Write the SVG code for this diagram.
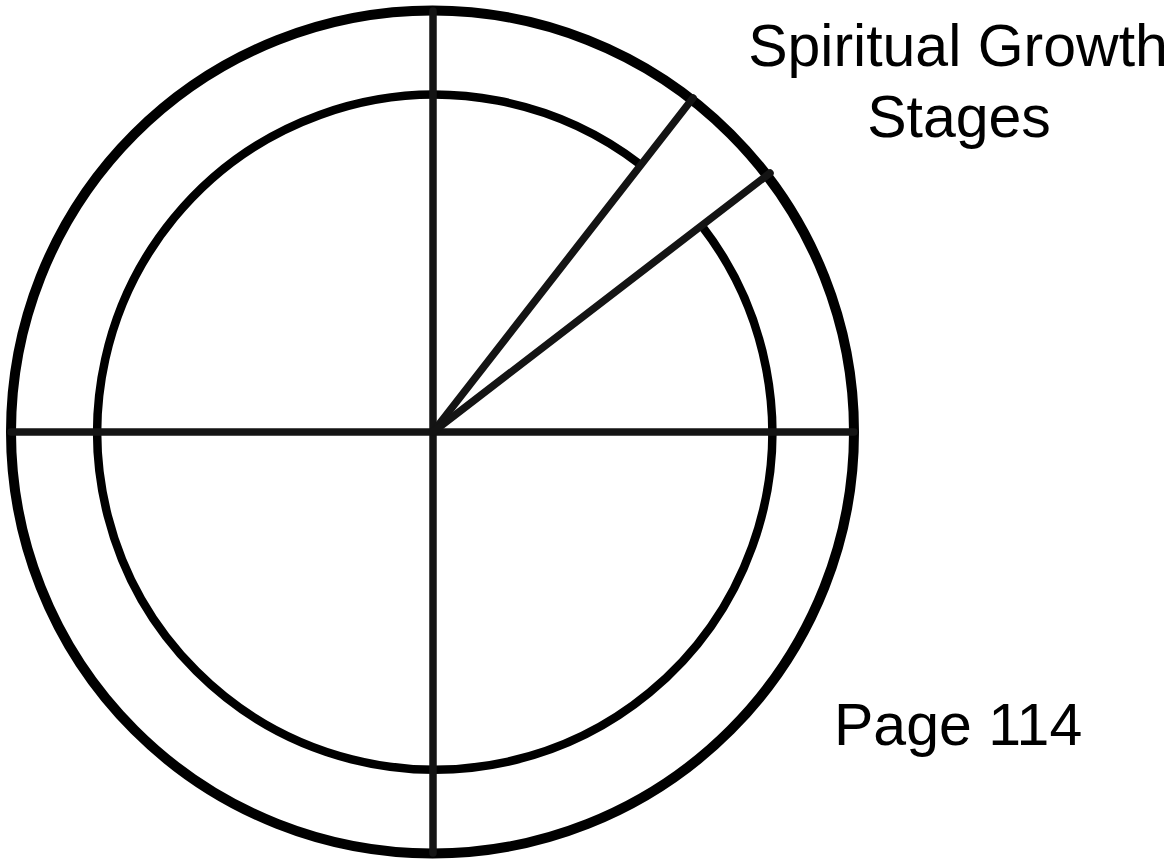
<svg xmlns="http://www.w3.org/2000/svg" width="1175" height="863" viewBox="0 0 1175 863">
<style>
.ring{fill:none;stroke:#000}
.ln{stroke:#141414;stroke-width:7.5;stroke-linecap:round;fill:none}
.t{font-family:"Liberation Sans",Arial,sans-serif;font-size:59px;fill:#000}
</style>
<rect width="1175" height="863" fill="#fff"/>
<g id="outer-circle"><circle class="ring" cx="432.5" cy="432" r="421.5" stroke-width="10"/></g>
<g id="inner-circle"><path class="ring" stroke-width="8.5" d="M640.9,165 A337.5,337.5 0 1 0 701.6,225.6"/></g>
<g id="connectors">
<line class="ln" x1="11" y1="432" x2="854" y2="432"/>
<line class="ln" x1="433" y1="11" x2="433" y2="853"/>
<line class="ln" x1="433" y1="432" x2="693" y2="98"/>
<line class="ln" x1="433" y1="432" x2="770" y2="173"/>
</g>
<g id="title"><text class="t" x="958" y="66" text-anchor="middle">Spiritual Growth</text><text class="t" x="959" y="137" text-anchor="middle">Stages</text></g>
<g id="page"><text class="t" x="834" y="745">Page 114</text></g>
</svg>
